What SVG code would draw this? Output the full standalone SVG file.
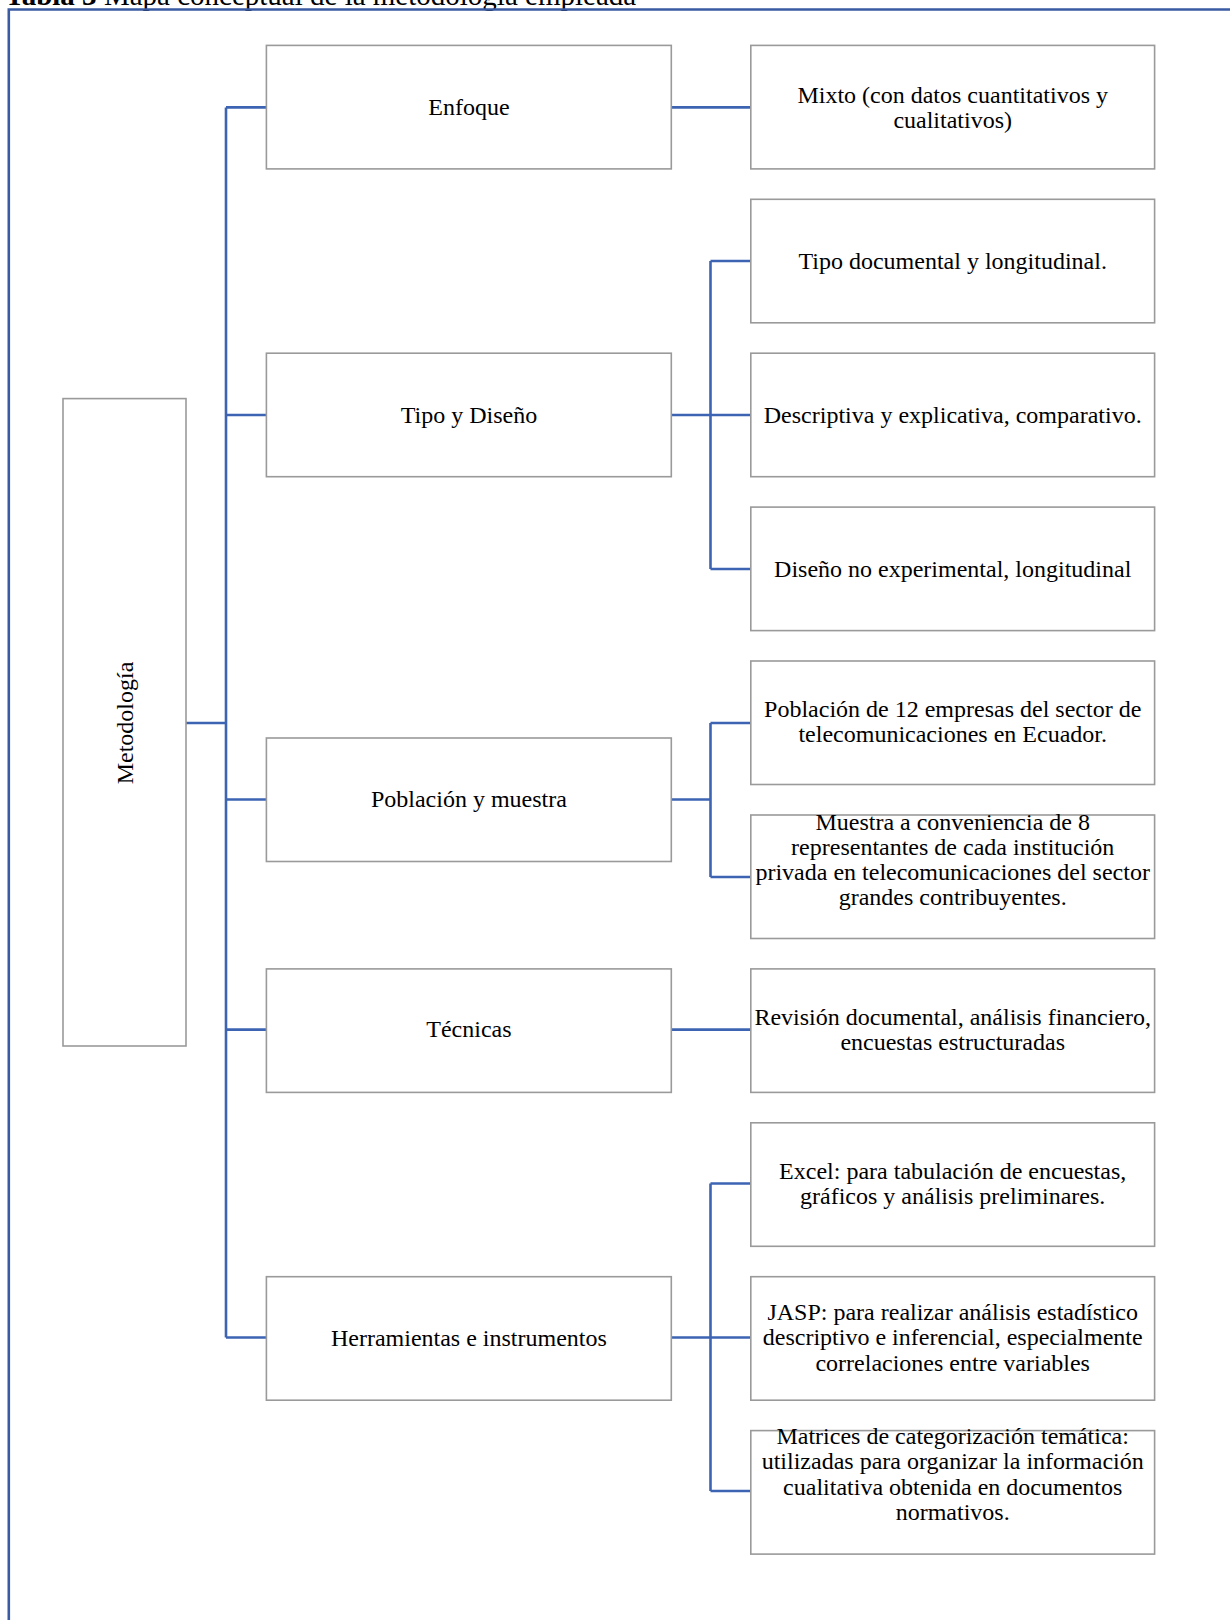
<svg xmlns="http://www.w3.org/2000/svg" width="1230" height="1620" viewBox="0 0 1230 1620">
<style>
.box{fill:#fff;stroke:#9a9a9a;stroke-width:1.6}
.t{font-family:"Liberation Serif","Times New Roman",serif;font-size:24px;fill:#000;text-anchor:middle}
.c{fill:none;stroke:#3d64b2;stroke-width:2.6}
.frame{fill:none;stroke:#3a5ba3;stroke-width:2.6}
.title{font-family:"Liberation Serif","Times New Roman",serif;font-size:29px;fill:#000}
</style>
<rect x="0" y="0" width="1230" height="1620" fill="#fff"/>
<text class="title" x="5" y="4.5"><tspan font-weight="bold">Tabla 3</tspan> Mapa conceptual de la metodología empleada</text>
<path class="frame" d="M1240 9.5 H8.8 V1630"/>

<g id="connectors">
<path class="c" d="M186 723 H226"/>
<path class="c" d="M226 107.4 V1337.5"/>
<path class="c" d="M226 107.4 H266.4 M226 415 H266.4 M226 799.5 H266.4 M226 1029.6 H266.4 M226 1337.5 H266.4"/>
<path class="c" d="M671.3 107.4 H750.8"/>
<path class="c" d="M671.3 415 H750.8 M710.5 261 V569 M710.5 261 H750.8 M710.5 569 H750.8"/>
<path class="c" d="M671.3 799.5 H710.5 M710.5 723 V877 M710.5 723 H750.8 M710.5 877 H750.8"/>
<path class="c" d="M671.3 1029.6 H750.8"/>
<path class="c" d="M671.3 1337.5 H750.8 M710.5 1183.5 V1491 M710.5 1183.5 H750.8 M710.5 1491 H750.8"/>
</g>

<g id="metodologia">
<rect class="box" x="63" y="398.6" width="123" height="647.4"/>
<text class="t" transform="translate(132.5 723) rotate(-90)" x="0" y="0">Metodología</text>
</g>

<g id="enfoque">
<rect class="box" x="266.4" y="45.4" width="404.9" height="123.5"/>
<text class="t" x="468.9" y="115">Enfoque</text>
</g>
<g id="tipo-diseno">
<rect class="box" x="266.4" y="353.2" width="404.9" height="123.5"/>
<text class="t" x="468.9" y="422.5">Tipo y Diseño</text>
</g>
<g id="poblacion-muestra">
<rect class="box" x="266.4" y="738" width="404.9" height="123.5"/>
<text class="t" x="468.9" y="807">Población y muestra</text>
</g>
<g id="tecnicas">
<rect class="box" x="266.4" y="968.9" width="404.9" height="123.5"/>
<text class="t" x="468.9" y="1037">Técnicas</text>
</g>
<g id="herramientas">
<rect class="box" x="266.4" y="1276.7" width="404.9" height="123.5"/>
<text class="t" x="468.9" y="1345.5">Herramientas e instrumentos</text>
</g>

<g id="mixto">
<rect class="box" x="750.8" y="45.4" width="403.8" height="123.5"/>
<text class="t" x="952.7" y="102.5">Mixto (con datos cuantitativos y</text>
<text class="t" x="952.7" y="127.8">cualitativos)</text>
</g>
<g id="tipo-documental">
<rect class="box" x="750.8" y="199.3" width="403.8" height="123.5"/>
<text class="t" x="952.7" y="268.5">Tipo documental y longitudinal.</text>
</g>
<g id="descriptiva">
<rect class="box" x="750.8" y="353.2" width="403.8" height="123.5"/>
<text class="t" x="952.7" y="422.5">Descriptiva y explicativa, comparativo.</text>
</g>
<g id="diseno-no-experimental">
<rect class="box" x="750.8" y="507.1" width="403.8" height="123.5"/>
<text class="t" x="952.7" y="576.5">Diseño no experimental, longitudinal</text>
</g>
<g id="poblacion-12">
<rect class="box" x="750.8" y="661" width="403.8" height="123.5"/>
<text class="t" x="952.7" y="717">Población de 12 empresas del sector de</text>
<text class="t" x="952.7" y="742.3">telecomunicaciones en Ecuador.</text>
</g>
<g id="muestra">
<rect class="box" x="750.8" y="815" width="403.8" height="123.5"/>
<text class="t" x="952.7" y="829.5">Muestra a conveniencia de 8</text>
<text class="t" x="952.7" y="854.8">representantes de cada institución</text>
<text class="t" x="952.7" y="880.1">privada en telecomunicaciones del sector</text>
<text class="t" x="952.7" y="905.4">grandes contribuyentes.</text>
</g>
<g id="revision">
<rect class="box" x="750.8" y="968.9" width="403.8" height="123.5"/>
<text class="t" x="952.7" y="1024.5">Revisión documental, análisis financiero,</text>
<text class="t" x="952.7" y="1049.8">encuestas estructuradas</text>
</g>
<g id="excel">
<rect class="box" x="750.8" y="1122.8" width="403.8" height="123.5"/>
<text class="t" x="952.7" y="1178.5">Excel: para tabulación de encuestas,</text>
<text class="t" x="952.7" y="1203.8">gráficos y análisis preliminares.</text>
</g>
<g id="jasp">
<rect class="box" x="750.8" y="1276.7" width="403.8" height="123.5"/>
<text class="t" x="952.7" y="1320">JASP: para realizar análisis estadístico</text>
<text class="t" x="952.7" y="1345.3">descriptivo e inferencial, especialmente</text>
<text class="t" x="952.7" y="1370.6">correlaciones entre variables</text>
</g>
<g id="matrices">
<rect class="box" x="750.8" y="1430.6" width="403.8" height="123.5"/>
<text class="t" x="952.7" y="1444">Matrices de categorización temática:</text>
<text class="t" x="952.7" y="1469.3">utilizadas para organizar la información</text>
<text class="t" x="952.7" y="1494.6">cualitativa obtenida en documentos</text>
<text class="t" x="952.7" y="1519.9">normativos.</text>
</g>
</svg>
